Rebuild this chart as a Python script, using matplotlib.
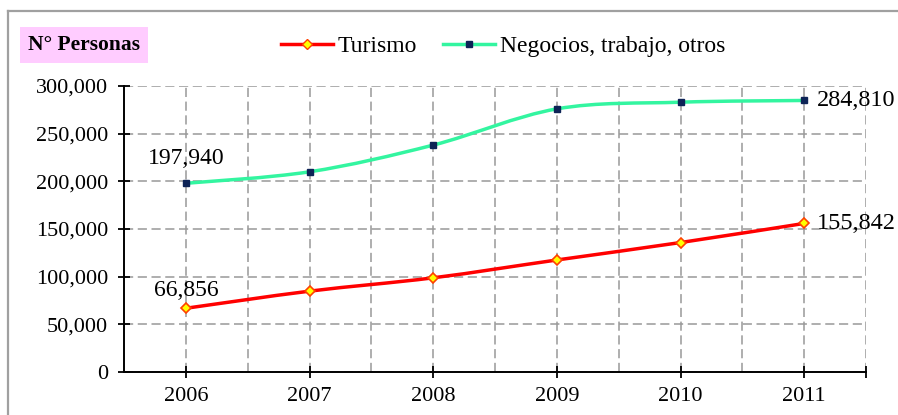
import numpy as np
import matplotlib
matplotlib.use('Agg')
import matplotlib.pyplot as plt
from matplotlib.path import Path
from matplotlib.patches import PathPatch
from matplotlib.lines import Line2D
from matplotlib.ticker import FuncFormatter

years = ['2006', '2007', '2008', '2009', '2010', '2011']
turismo = [66856, 84800, 98800, 117500, 135800, 155842]
negocios = [197940, 210000, 238000, 276000, 283000, 284810]

plt.rcParams['font.family'] = ['Liberation Serif', 'DejaVu Serif']


def smooth_path(x, y):
    # bezier segments like the "smoothed line" option of spreadsheets
    pts = np.column_stack([x, y]).astype(float)
    ext = np.vstack([pts[0], pts, pts[-1]])
    verts = [pts[0]]
    codes = [Path.MOVETO]
    for i in range(len(pts) - 1):
        p0, p1, p2, p3 = ext[i], ext[i + 1], ext[i + 2], ext[i + 3]
        c1 = p1 + (p2 - p0) / 6.0
        c2 = p2 - (p3 - p1) / 6.0
        verts += [c1, c2, p2]
        codes += [Path.CURVE4] * 3
    return Path(verts, codes)


fig = plt.figure(figsize=(8.98, 4.15), dpi=100)
ax = fig.add_axes([0.1381, 0.1036, 0.8263, 0.6892])

xs = np.arange(len(years))
red = '#ff0000'
mint = '#33f5a0'
navy = '#0d2356'

ax.add_patch(PathPatch(smooth_path(xs, negocios), fill=False, ec=mint, lw=2.5,
                       zorder=3))
ax.plot(xs, negocios, ls='none', marker='s', ms=4.5, mfc=navy, mec=navy,
        zorder=4)
ax.add_patch(PathPatch(smooth_path(xs, turismo), fill=False, ec=red, lw=2.5,
                       zorder=3))
ax.plot(xs, turismo, ls='none', marker='D', ms=5.5, mfc='#ffff00', mec='#ff4000',
        mew=1.2, zorder=4)

ax.set_xlim(-0.5, 5.5)
ax.set_ylim(0, 300000)
ax.set_yticks(np.arange(0, 300001, 50000))
ax.yaxis.set_major_formatter(FuncFormatter(lambda v, p: '{:,.0f}'.format(v)))
ax.set_xticks(list(xs) + [5.5])
ax.set_xticklabels(years + [''])
ax.set_xticks(np.arange(0.5, 5, 1), minor=True)

ax.grid(True, which='both', color='#999999', ls=(0, (6, 3)), lw=1.1)
ax.tick_params(axis='x', which='minor', length=0)
ax.tick_params(axis='both', which='major', direction='inout', length=9,
               width=1.3, labelsize=16, colors='black')
ax.tick_params(axis='y', pad=7)
ax.tick_params(axis='x', pad=6)
ax.set_axisbelow(True)
for s in ['top', 'right']:
    ax.spines[s].set_visible(False)
for s in ['left', 'bottom']:
    ax.spines[s].set_linewidth(1.4)

# value labels
ax.annotate('{:,}'.format(negocios[0]), (0, negocios[0]), xytext=(0, 10),
            textcoords='offset points', ha='center', va='bottom', fontsize=17)
ax.annotate('{:,}'.format(turismo[0]), (0, turismo[0]), xytext=(0, 5),
            textcoords='offset points', ha='center', va='bottom', fontsize=17)
ax.annotate('{:,}'.format(negocios[-1]), (5, negocios[-1]), xytext=(9, 0),
            textcoords='offset points', ha='left', va='center', fontsize=17.5,
            annotation_clip=False)
ax.annotate('{:,}'.format(turismo[-1]), (5, turismo[-1]), xytext=(9, 0),
            textcoords='offset points', ha='left', va='center', fontsize=17.5,
            annotation_clip=False)

handles = [
    Line2D([], [], color=red, lw=2.5, marker='D', ms=5.5, mfc='#ffff00',
           mec='#ff4000'),
    Line2D([], [], color=mint, lw=2.5, marker='s', ms=4.5, mfc=navy, mec=navy),
]
fig.legend(handles, ['Turismo', 'Negocios, trabajo, otros'], ncol=2,
           loc='center', bbox_to_anchor=(0.56, 0.889), frameon=False,
           fontsize=17, handlelength=2.2, handletextpad=0.2,
           columnspacing=1.1, borderpad=0)

fig.text(0.031, 0.891, 'N° Personas', fontsize=15.5, fontweight='bold',
         va='center', ha='left',
         bbox=dict(boxstyle='square,pad=0.38', fc='#ffccff', ec='none'))

# outer frame
fig.add_artist(Line2D([8 / 898, 1], [1 - 11 / 415] * 2, color='#a0a0a0',
                      lw=1.6, transform=fig.transFigure))
fig.add_artist(Line2D([8 / 898] * 2, [0, 1 - 11 / 415], color='#a0a0a0',
                      lw=1.6, transform=fig.transFigure))

fig.savefig('out.png', dpi=100)
